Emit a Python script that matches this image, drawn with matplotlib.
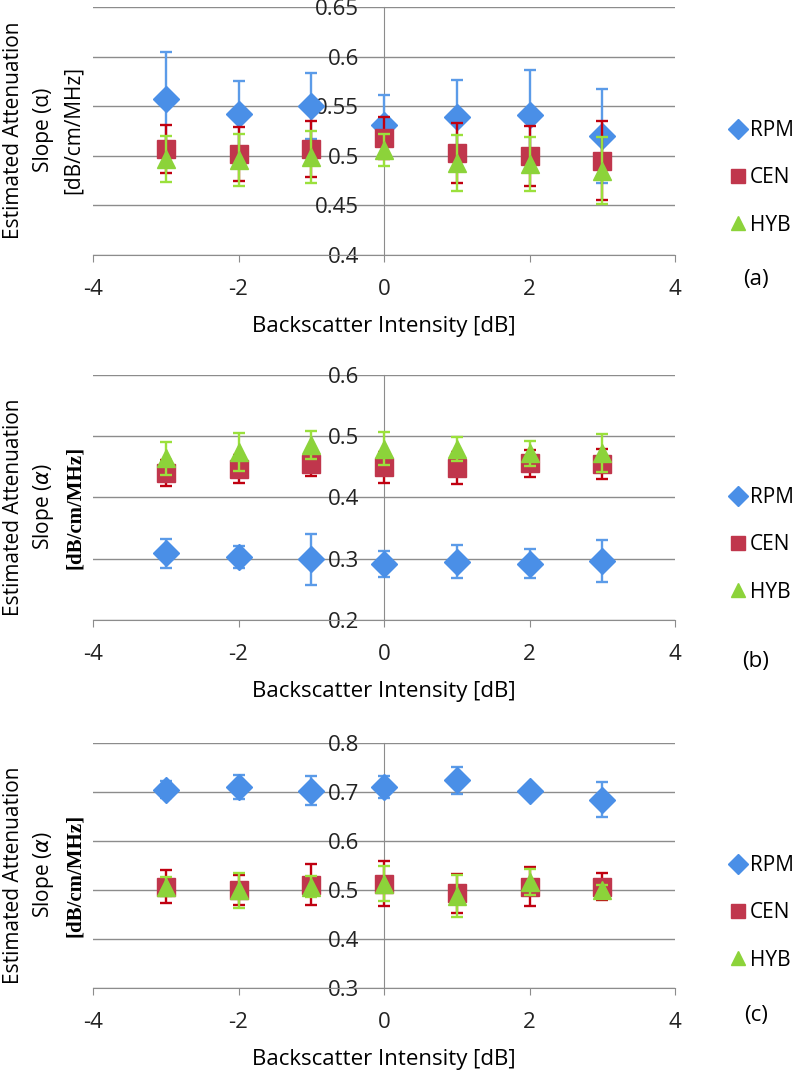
import numpy as np
import matplotlib
matplotlib.use("Agg")
import matplotlib.pyplot as plt
from matplotlib.ticker import FuncFormatter
from matplotlib.lines import Line2D

plt.rcParams['font.family'] = ['Open Sans', 'DejaVu Sans']
plt.rcParams['axes.unicode_minus'] = False

# backscatter intensity levels (dB)
x = [-3, -2, -1, 0, 1, 2, 3]
series = ['RPM', 'CEN', 'HYB']

# panel (a)
a_rpm = [0.557, 0.542, 0.550, 0.531, 0.539, 0.541, 0.520]
a_rpm_err = [0.048, 0.033, 0.033, 0.030, 0.037, 0.045, 0.047]
a_cen = [0.507, 0.502, 0.507, 0.518, 0.503, 0.500, 0.495]
a_cen_err = [0.024, 0.027, 0.028, 0.021, 0.030, 0.030, 0.040]
a_hyb = [0.497, 0.496, 0.499, 0.506, 0.493, 0.492, 0.485]
a_hyb_err = [0.023, 0.026, 0.026, 0.016, 0.028, 0.027, 0.034]

# panel (b)
b_rpm = [0.309, 0.303, 0.299, 0.292, 0.295, 0.292, 0.296]
b_rpm_err = [0.024, 0.018, 0.042, 0.021, 0.027, 0.024, 0.034]
b_cen = [0.440, 0.446, 0.454, 0.449, 0.448, 0.456, 0.455]
b_cen_err = [0.022, 0.023, 0.019, 0.026, 0.026, 0.022, 0.025]
b_hyb = [0.464, 0.475, 0.486, 0.480, 0.479, 0.472, 0.472]
b_hyb_err = [0.027, 0.031, 0.023, 0.027, 0.020, 0.021, 0.031]

# panel (c)
c_rpm = [0.705, 0.710, 0.703, 0.710, 0.724, 0.703, 0.684]
c_rpm_err = [0.018, 0.024, 0.029, 0.023, 0.028, 0.006, 0.036]
c_cen = [0.507, 0.500, 0.511, 0.513, 0.493, 0.507, 0.507]
c_cen_err = [0.034, 0.030, 0.042, 0.046, 0.040, 0.040, 0.028]
c_hyb = [0.507, 0.499, 0.507, 0.513, 0.488, 0.516, 0.501]
c_hyb_err = [0.020, 0.035, 0.022, 0.035, 0.043, 0.027, 0.010]

panels = [
    ('(a)', [a_rpm, a_cen, a_hyb], [a_rpm_err, a_cen_err, a_hyb_err], (0.4, 0.65), 0.05),
    ('(b)', [b_rpm, b_cen, b_hyb], [b_rpm_err, b_cen_err, b_hyb_err], (0.2, 0.6), 0.1),
    ('(c)', [c_rpm, c_cen, c_hyb], [c_rpm_err, c_cen_err, c_hyb_err], (0.3, 0.8), 0.1),
]

mcolors = ['#4A8FE7', '#C0364C', '#8CD33A']
ecolors = ['#5B9BE8', '#C00010', '#9BE03C']
markers = ['D', 's', '^']
msizes = [13, 13.5, 13.5]
grey = '#8C8C8C'

W, H = 793, 1076
fig = plt.figure(figsize=(W / 100, H / 100), dpi=100)

# pixel boxes: top, bottom of each plot area
boxes = [(7, 255), (375, 620), (743, 988)]
ylab_centers = [130, 507, 875]
legend_mid = [178, 545, 913]
tag_y = [280, 662, 1015]
left, right = 93, 675

for i, (tag, vals, errs, ylim, step) in enumerate(panels):
    top, bot = boxes[i]
    ax = fig.add_axes([left / W, 1 - bot / H, (right - left) / W, (bot - top) / H])
    for k in range(3):
        ax.errorbar(x, vals[k], yerr=errs[k], fmt=markers[k], color=mcolors[k],
                    ms=msizes[k], mec=mcolors[k], ecolor=ecolors[k], elinewidth=1.7,
                    capsize=4.5, capthick=1.7, zorder=3 + k)
    ax.set_xlim(-4, 4)
    ax.set_ylim(*ylim)
    ax.set_xticks([-4, -2, 0, 2, 4])
    ax.set_yticks(np.arange(ylim[0], ylim[1] + step / 2, step))
    ax.yaxis.set_major_formatter(FuncFormatter(lambda v, p: '%g' % round(v, 3)))
    ax.grid(axis='y', color=grey, lw=1.0)
    ax.set_axisbelow(True)
    for s in ['top', 'right']:
        ax.spines[s].set_visible(False)
    ax.spines['left'].set_position(('data', 0))
    ax.spines['left'].set_color(grey)
    ax.spines['bottom'].set_color(grey)
    ax.tick_params(axis='y', length=0, pad=18, labelsize=16, labelcolor='#222222')
    ax.tick_params(axis='x', length=5, color=grey, pad=12, labelsize=16, labelcolor='#222222')
    ax.set_xlabel('Backscatter Intensity [dB]', fontsize=16, labelpad=12, color='black')

    # legend on the right, marker-only entries
    handles = [Line2D([], [], ls='none', marker=markers[k], color=mcolors[k],
                      ms=msizes[k] * 0.75, label=series[k]) for k in range(3)]
    ax.legend(handles=handles, loc='center left', frameon=False,
              bbox_to_anchor=(721 / W, 1 - legend_mid[i] / H), bbox_transform=fig.transFigure,
              handlelength=0.6, handletextpad=0.3, labelspacing=1.25, borderpad=0,
              fontsize=15)
    fig.text(756 / W, 1 - tag_y[i] / H, tag, ha='center', va='center', fontsize=16)

    # stacked y label
    yc = 1 - ylab_centers[i] / H
    fig.text(14 / W, yc, 'Estimated Attenuation', rotation=90, ha='center', va='center', fontsize=15)
    if i == 0:
        fig.text(43 / W, yc, 'Slope (\u03b1)', rotation=90, ha='center', va='center', fontsize=15)
        fig.text(73 / W, yc, '[dB/cm/MHz]', rotation=90, ha='center', va='center', fontsize=15)
    else:
        fig.text(43 / W, yc, r'Slope ($\it{\alpha}$)', rotation=90, ha='center', va='center', fontsize=15)
        fig.text(75 / W, yc, '[dB/cm/MHz]', rotation=90, ha='center', va='center', fontsize=15,
                 family='Liberation Serif', weight='bold')

fig.savefig('out.png', dpi=100)
